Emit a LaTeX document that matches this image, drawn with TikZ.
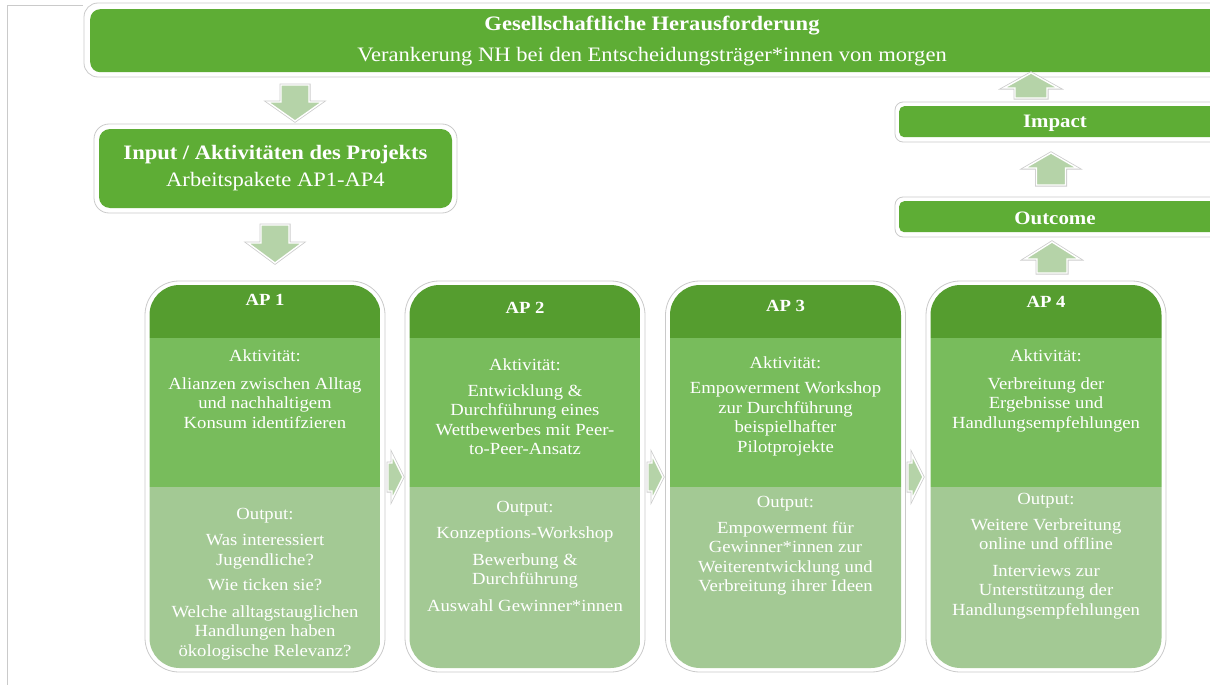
\documentclass[tikz,border=0pt]{standalone}
\usepackage{fontspec}
\setmainfont[FakeStretch=1.1]{Liberation Serif}
\definecolor{topgreen}{HTML}{5EAD35}
\definecolor{apdark}{HTML}{559D2F}
\definecolor{apmid}{HTML}{78BC5C}
\definecolor{aplight}{HTML}{A3C994}
\definecolor{arrowg}{HTML}{B5D3A8}
\definecolor{rimgray}{HTML}{CACACA}
\tikzset{
  gbox/.style={fill=topgreen, draw=none, inner sep=0pt, text=white, align=center},
  rimbox/.style={fill=white, draw=rimgray, line width=0.8pt},
  aptxt/.style={text=white, align=center, inner sep=0pt, font=\fontsize{17}{19.5}\selectfont},
  aphead/.style={text=white, inner sep=0pt, font=\fontsize{17}{20}\selectfont\bfseries},
  arrowrim/.style={draw=black!20, line width=3pt, line join=miter, fill=white},
  arrowfill/.style={fill=arrowg, draw=white, line width=1.4pt, line join=miter},
}
% vertical block arrow: cx, tailY, headbaseY, tipY, shaft half, head half
\newcommand\vtarrow[6]{%
  \foreach \st in {arrowrim,arrowfill}{
  \path[\st] (#1-#5,#2) -- (#1+#5,#2) -- (#1+#5,#3) -- (#1+#6,#3) -- (#1,#4) -- (#1-#6,#3) -- (#1-#5,#3) -- cycle;}
}
% horizontal block arrow: cy, tailX, headbaseX, tipX, shaft half, head half
\newcommand\hzarrow[6]{%
  \foreach \st in {arrowrim,arrowfill}{
  \path[\st] (#2,#1-#5) -- (#3,#1-#5) -- (#3,#1-#6) -- (#4,#1) -- (#3,#1+#6) -- (#3,#1+#5) -- (#2,#1+#5) -- cycle;}
}
% AP column: name, centre x
\newcommand\apcolumn[2]{%
  \path[rimbox, rounded corners=34pt] (#2-120,281) rectangle (#2+120,672);
  \begin{scope}
    \clip[rounded corners=30pt] (#2-115.5,285) rectangle (#2+115.5,668);
    \fill[apdark] (#2-116,284) rectangle (#2+116,338);
    \fill[apmid] (#2-116,338) rectangle (#2+116,487);
    \fill[aplight] (#2-116,487) rectangle (#2+116,669);
  \end{scope}
  \coordinate (#1) at (#2,476);
}
\begin{document}
\begin{tikzpicture}[x=1pt,y=-1pt]
\useasboundingbox (0,0) rectangle (1210,685);
% thin frame lines
\draw[rimgray, line width=0.8pt] (7,685) -- (7,5) -- (83,5);

% top box
\path[rimbox, rounded corners=14pt] (84,3) rectangle (1230,77);
\node[gbox, rounded corners=10pt, minimum width=1130pt, minimum height=63pt, anchor=north west] (top) at (90,9) {};
\node[text=white, align=center, inner sep=0pt, font=\fontsize{20.5}{24}\selectfont] (toptxt) at (652,41)
  {\textbf{Gesellschaftliche Herausforderung}\\[7pt]Verankerung NH bei den Entscheidungsträger*innen von morgen};

% input box
\path[rimbox, rounded corners=15pt] (94,124) rectangle (457,213);
\node[gbox, rounded corners=11pt, minimum width=353pt, minimum height=79pt] (input) at (275.5,168.5) {};
\node[text=white, align=center, inner sep=0pt, font=\fontsize{20.5}{24}\selectfont] (inputtxt) at (275.5,168)
  {\textbf{Input / Aktivitäten des Projekts}\\[3pt]Arbeitspakete AP1-AP4};

% impact and outcome boxes
\path[rimbox, rounded corners=8pt] (895,102) rectangle (1230,142);
\node[gbox, rounded corners=5pt, minimum width=330pt, minimum height=31pt, anchor=north west] (impact) at (899,106) {};
\node[text=white, inner sep=0pt, font=\fontsize{19}{22}\selectfont\bfseries] (impacttxt) at (1055,123) {Impact};
\path[rimbox, rounded corners=8pt] (895,197) rectangle (1230,237);
\node[gbox, rounded corners=5pt, minimum width=330pt, minimum height=31pt, anchor=north west] (outcome) at (899,201) {};
\node[text=white, inner sep=0pt, font=\fontsize{19}{22}\selectfont\bfseries] (outcometxt) at (1055,218) {Outcome};

% block arrows
\vtarrow{295}{85}{102}{121}{14}{27}
\vtarrow{275}{225}{243}{263}{14}{27}
\vtarrow{1031}{98}{88}{73}{16}{27}
\vtarrow{1051}{185}{168}{153}{14.5}{26}
\vtarrow{1052}{273}{259}{242}{15}{27}

% AP columns
\apcolumn{ap1}{265}
\apcolumn{ap2}{525}
\apcolumn{ap3}{785.5}
\apcolumn{ap4}{1046}

\hzarrow{477}{388}{392}{403}{14}{22}
\hzarrow{477}{648}{652}{663}{14}{22}
\hzarrow{477}{908}{912}{923}{14}{22}

% AP 1
\node[aphead] (ap1h) at (265,300) {AP 1};
\node[aptxt] (ap1a) at (265,389) {Aktivität:\\[8pt]Alianzen zwischen Alltag\\und nachhaltigem\\Konsum identifzieren};
\node[aptxt] (ap1o) at (265,584) {Output:\\[7pt]Was interessiert\\Jugendliche?\\[6pt]Wie ticken sie?\\[7pt]Welche alltagstauglichen\\Handlungen haben\\ökologische Relevanz?};

% AP 2
\node[aphead] (ap2h) at (525,308) {AP 2};
\node[aptxt] (ap2a) at (525,407) {Aktivität:\\[6pt]Entwicklung \&\\Durchführung eines\\Wettbewerbes mit Peer-\\to-Peer-Ansatz};
\node[aptxt] (ap2o) at (525,556) {Output:\\[7pt]Konzeptions-Workshop\\[7pt]Bewerbung \&\\Durchführung\\[7pt]Auswahl Gewinner*innen};

% AP 3
\node[aphead] (ap3h) at (785.5,306) {AP 3};
\node[aptxt] (ap3a) at (785.5,406) {Aktivität:\\[6pt]Empowerment Workshop\\zur Durchführung\\beispielhafter\\Pilotprojekte};
\node[aptxt] (ap3o) at (785.5,546) {Output:\\[6pt]Empowerment für\\Gewinner*innen zur\\Weiterentwicklung und\\Verbreitung ihrer Ideen};

% AP 4
\node[aphead] (ap4h) at (1046,302) {AP 4};
\node[aptxt] (ap4a) at (1046,391) {Aktivität:\\[8pt]Verbreitung der\\Ergebnisse und\\Handlungsempfehlungen};
\node[aptxt] (ap4o) at (1046,556) {Output:\\[6pt]Weitere Verbreitung\\online und offline\\[7pt]Interviews zur\\Unterstützung der\\Handlungsempfehlungen};
\end{tikzpicture}
\end{document}
